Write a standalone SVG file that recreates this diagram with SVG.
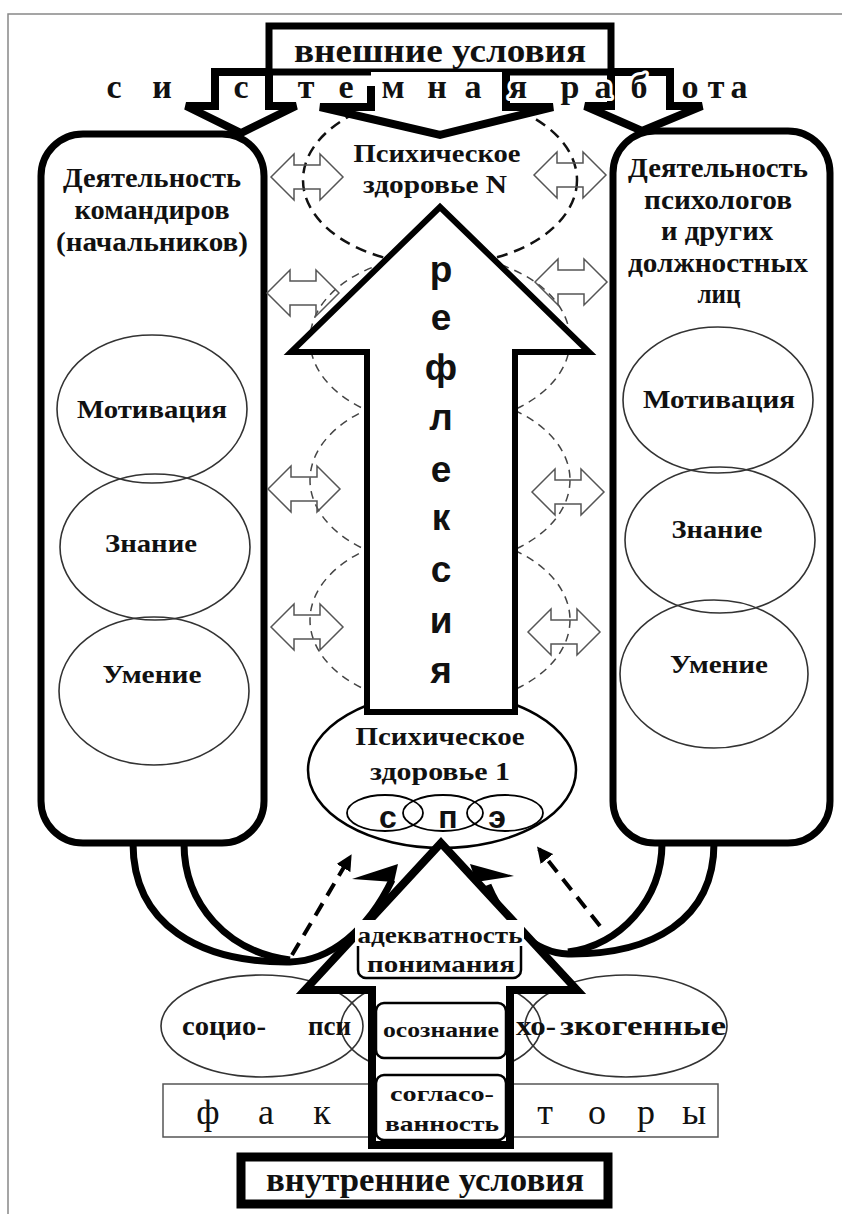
<svg xmlns="http://www.w3.org/2000/svg" xmlns:xlink="http://www.w3.org/1999/xlink" width="842" height="1214" viewBox="0 0 842 1214">
<style>
.t{font-family:"Liberation Serif","DejaVu Serif",serif;font-weight:bold;fill:#111;text-anchor:middle}
.ts{font-family:"Liberation Serif","DejaVu Serif",serif;font-weight:bold;fill:#111;text-anchor:start}
.r{font-family:"Liberation Serif","DejaVu Serif",serif;font-weight:normal;fill:#111;text-anchor:middle}
.a{font-family:"Liberation Sans","DejaVu Sans",sans-serif;font-weight:bold;fill:#111;text-anchor:middle}
.halo{stroke:#fff;stroke-width:6;paint-order:stroke;stroke-linejoin:round}
.thick{fill:none;stroke:#000;stroke-width:8;stroke-linejoin:miter}
.oval{fill:none;stroke:#333;stroke-width:1.6}
.dbl{fill:none;stroke:#555;stroke-width:1.5}
.dashN{fill:none;stroke:#111;stroke-width:2.5;stroke-dasharray:11 7}
.dash{fill:none;stroke:#444;stroke-width:1.5;stroke-dasharray:8 6}
.lbl{fill:#fff;stroke:#000;stroke-width:2.5}
.arc{fill:none;stroke:#000;stroke-width:7}
.darr{fill:none;stroke:#000;stroke-width:4;stroke-dasharray:14 9}
</style>
<defs>
<polygon id="dbl" class="dbl" points="-36,0 -13,-23 -13,-12 13,-12 13,-23 36,0 13,23 13,12 -13,12 -13,23"/>
<marker id="mh" viewBox="0 0 10 10" refX="8" refY="5" markerWidth="4" markerHeight="4" orient="auto" markerUnits="strokeWidth">
<path d="M0,0 L10,5 L0,10 Z" fill="#000"/>
</marker>
</defs>
<rect x="0" y="0" width="842" height="1214" fill="#fff"/>
<rect x="8" y="14" width="900" height="1300" fill="none" stroke="#888" stroke-width="1.5"/>

<g id="frame-dashed">
<ellipse class="dash" cx="440" cy="340" rx="130" ry="85"/>
<ellipse class="dash" cx="440" cy="480" rx="130" ry="85"/>
<ellipse class="dash" cx="440" cy="620" rx="130" ry="85"/>
<ellipse id="pz-n-oval" class="dashN" cx="440" cy="180" rx="137" ry="85"/>
</g>

<g id="external">
<rect x="269" y="26" width="342" height="46" fill="#fff" stroke="#000" stroke-width="7"/>
<text class="t" x="440" y="62" font-size="33" textLength="292" lengthAdjust="spacingAndGlyphs">внешние условия</text>
</g>

<g id="top-arrows">
<polygon points="371,72 371,107 320,107 440,135 553,107 506,107 506,72" fill="#fff"/>
<polyline class="thick" points="269,72 215,72 215,106 186,106 241,133 296,106 269,106 269,72"/>
<polyline class="thick" points="611,72 670,72 670,106 702,106 642,131 585,106 611,106 611,72"/>
<polyline class="thick" points="371,86 371,107 320,107 440,135 553,107 506,107 506,72"/>
</g>

<g id="system-work" font-size="34">
<text class="t halo" x="114" y="98">с</text>
<text class="t halo" x="162" y="98">и</text>
<text class="t halo" x="241" y="98">с</text>
<text class="t halo" x="306" y="98">т</text>
<text class="t halo" x="346" y="98">е</text>
<text class="t halo" x="393" y="98">м</text>
<text class="t halo" x="437" y="98">н</text>
<text class="t halo" x="473" y="98">а</text>
<text class="t halo" x="518" y="98">я</text>
<text class="t halo" x="570" y="98">р</text>
<text class="t halo" x="603" y="98">а</text>
<text class="t halo" x="639" y="98">б</text>
<text class="t halo" x="690" y="98">о</text>
<text class="t halo" x="716" y="98">т</text>
<text class="t halo" x="739" y="98">а</text>
</g>

<g id="commanders">
<rect x="41" y="134" width="223" height="709" rx="42" fill="#fff" stroke="#000" stroke-width="7"/>
<text class="t" x="152" y="187" font-size="27" textLength="178" lengthAdjust="spacingAndGlyphs">Деятельность</text>
<text class="t" x="152" y="219" font-size="27" textLength="155" lengthAdjust="spacingAndGlyphs">командиров</text>
<text class="t" x="152" y="251" font-size="27" textLength="192" lengthAdjust="spacingAndGlyphs">(начальников)</text>
<ellipse class="oval" cx="152" cy="409" rx="95" ry="74"/>
<ellipse class="oval" cx="155" cy="547" rx="95" ry="73"/>
<ellipse class="oval" cx="154" cy="691" rx="95" ry="74"/>
<text class="t" x="152" y="418" font-size="26" textLength="150" lengthAdjust="spacingAndGlyphs">Мотивация</text>
<text class="t" x="151" y="552" font-size="26" textLength="92" lengthAdjust="spacingAndGlyphs">Знание</text>
<text class="t" x="152" y="683" font-size="26" textLength="99" lengthAdjust="spacingAndGlyphs">Умение</text>
</g>

<g id="psychologists">
<rect x="613" y="131" width="217" height="712" rx="42" fill="#fff" stroke="#000" stroke-width="7"/>
<text class="t" x="718" y="177" font-size="27" textLength="180" lengthAdjust="spacingAndGlyphs">Деятельность</text>
<text class="t" x="718" y="209" font-size="27" textLength="148" lengthAdjust="spacingAndGlyphs">психологов</text>
<text class="t" x="717" y="240" font-size="27" textLength="112" lengthAdjust="spacingAndGlyphs">и других</text>
<text class="t" x="718" y="272" font-size="27" textLength="180" lengthAdjust="spacingAndGlyphs">должностных</text>
<text class="t" x="719" y="303" font-size="27" textLength="43" lengthAdjust="spacingAndGlyphs">лиц</text>
<ellipse class="oval" cx="718" cy="400" rx="95" ry="73"/>
<ellipse class="oval" cx="720" cy="540" rx="95" ry="73"/>
<ellipse class="oval" cx="714" cy="674" rx="94" ry="74"/>
<text class="t" x="719" y="408" font-size="26" textLength="152" lengthAdjust="spacingAndGlyphs">Мотивация</text>
<text class="t" x="717" y="538" font-size="26" textLength="91" lengthAdjust="spacingAndGlyphs">Знание</text>
<text class="t" x="719" y="673" font-size="26" textLength="98" lengthAdjust="spacingAndGlyphs">Умение</text>
</g>

<g id="double-arrows">
<use xlink:href="#dbl" href="#dbl" x="307" y="177"/>
<use xlink:href="#dbl" href="#dbl" x="303" y="293"/>
<use xlink:href="#dbl" href="#dbl" x="304" y="489"/>
<use xlink:href="#dbl" href="#dbl" x="307" y="627"/>
<use xlink:href="#dbl" href="#dbl" x="570" y="175"/>
<use xlink:href="#dbl" href="#dbl" x="571" y="282"/>
<use xlink:href="#dbl" href="#dbl" x="568" y="492"/>
<use xlink:href="#dbl" href="#dbl" x="564" y="632"/>
</g>

<g id="health-n">
<text class="t" x="437" y="162" font-size="25" textLength="167" lengthAdjust="spacingAndGlyphs">Психическое</text>
<text class="t" x="435" y="193" font-size="25" textLength="144" lengthAdjust="spacingAndGlyphs">здоровье N</text>
</g>

<g id="health-1">
<ellipse cx="442" cy="770" rx="134" ry="78" fill="#fff" stroke="#000" stroke-width="2.5"/>
<text class="t" x="440" y="745" font-size="25" textLength="169" lengthAdjust="spacingAndGlyphs">Психическое</text>
<text class="t" x="440" y="780" font-size="25" textLength="140" lengthAdjust="spacingAndGlyphs">здоровье 1</text>
<ellipse cx="385" cy="813" rx="38" ry="18" fill="none" stroke="#000" stroke-width="1.8"/>
<ellipse cx="443" cy="813" rx="40" ry="18" fill="none" stroke="#000" stroke-width="1.8"/>
<ellipse cx="505" cy="813" rx="38" ry="18" fill="none" stroke="#000" stroke-width="1.8"/>
<text class="a" x="388" y="828" font-size="32">с</text>
<text class="a" x="448" y="828" font-size="32">п</text>
<text class="a" x="497" y="828" font-size="32">э</text>
</g>

<g id="reflection">
<path d="M440,207 L589,352 L515,352 L515,712 L367,712 L367,352 L291,352 Z" fill="#fff" stroke="#000" stroke-width="6"/>
<text class="a" x="441" y="282" font-size="37">р</text>
<text class="a" x="441" y="330" font-size="37">е</text>
<text class="a" x="441" y="380" font-size="37">ф</text>
<text class="a" x="441" y="430" font-size="37">л</text>
<text class="a" x="441" y="482" font-size="37">е</text>
<text class="a" x="441" y="530" font-size="37">к</text>
<text class="a" x="441" y="582" font-size="37">с</text>
<text class="a" x="441" y="633" font-size="37">и</text>
<text class="a" x="441" y="683" font-size="37">я</text>
</g>

<g id="factors">
<ellipse class="oval" cx="262" cy="1026" rx="101" ry="51"/>
<ellipse class="oval" cx="441" cy="1026" rx="100" ry="51"/>
<ellipse class="oval" cx="626" cy="1026" rx="101" ry="51"/>
<rect x="163" y="1084" width="555" height="53" fill="#fff" stroke="#555" stroke-width="1.5"/>
<text class="r" x="208" y="1124" font-size="36">ф</text>
<text class="r" x="266" y="1124" font-size="36">а</text>
<text class="r" x="322" y="1124" font-size="36">к</text>
<text class="r" x="545" y="1124" font-size="36">т</text>
<text class="r" x="597" y="1124" font-size="36">о</text>
<text class="r" x="646" y="1124" font-size="36">р</text>
<text class="r" x="694" y="1124" font-size="36">ы</text>
</g>

<g id="connectors">
<path class="arc" d="M133,843 C133,925 200,963 290,962 C330,961 368,930 392,880"/>
<path class="arc" d="M184,843 C184,905 228,952 290,960"/>
<polygon points="352,879 398,864 394,882" fill="#000"/>
<path class="arc" d="M714,843 C714,920 652,955 568,954 C535,953 505,925 488,885"/>
<path class="arc" d="M662,843 C662,900 620,945 568,952"/>
<polygon points="514,876 470,864 476,882" fill="#000"/>
<line class="darr" x1="292" y1="955" x2="350" y2="857" marker-end="url(#mh)"/>
<line class="darr" x1="600" y1="926" x2="539" y2="849" marker-end="url(#mh)"/>
</g>

<g id="internal-arrow">
<path d="M441,843 L577,990 L510,990 L510,1145 L372,1145 L372,990 L305,990 Z" fill="#fff" stroke="#000" stroke-width="8"/>
</g>

<g id="adequacy">
<rect class="lbl" x="358" y="922" width="163" height="56" rx="8"/>
<rect x="355" y="920" width="169" height="26" fill="#fff"/>
<text class="t" x="440" y="943" font-size="23" textLength="165" lengthAdjust="spacingAndGlyphs">адекватность</text>
<text class="t" x="441" y="972" font-size="23" textLength="148" lengthAdjust="spacingAndGlyphs">понимания</text>
</g>
<g id="awareness">
<rect class="lbl" x="376" y="1003" width="130" height="55" rx="8"/>
<text class="t" x="441" y="1037" font-size="22" textLength="116" lengthAdjust="spacingAndGlyphs">осознание</text>
</g>
<g id="coherence">
<rect class="lbl" x="376" y="1075" width="130" height="65" rx="8"/>
<text class="t" x="442" y="1101" font-size="22" textLength="104" lengthAdjust="spacingAndGlyphs">согласо-</text>
<text class="t" x="442" y="1131" font-size="22" textLength="114" lengthAdjust="spacingAndGlyphs">ванность</text>
</g>

<g id="factor-words">
<text class="ts" x="182" y="1035" font-size="27" textLength="84" lengthAdjust="spacingAndGlyphs">социо-</text>
<text class="ts" x="308" y="1035" font-size="27">пси</text>
<text class="ts" x="516" y="1035" font-size="27" textLength="40" lengthAdjust="spacingAndGlyphs">хо-</text>
<text class="ts" x="560" y="1035" font-size="27" textLength="166" lengthAdjust="spacingAndGlyphs">зкогенные</text>
</g>

<g id="internal">
<rect x="241" y="1157" width="367" height="47" fill="#fff" stroke="#000" stroke-width="9"/>
<text class="t" x="425" y="1191" font-size="33" textLength="318" lengthAdjust="spacingAndGlyphs">внутренние условия</text>
</g>
</svg>
